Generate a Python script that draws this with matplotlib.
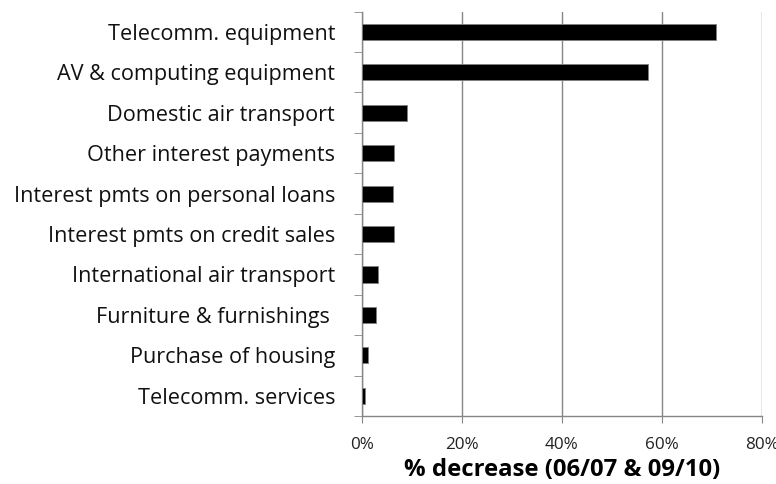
import numpy as np
import matplotlib.pyplot as plt
from matplotlib.ticker import FixedLocator, PercentFormatter

categories = [
    "Telecomm. equipment",
    "AV & computing equipment",
    "Domestic air transport",
    "Other interest payments",
    "Interest pmts on personal loans",
    "Interest pmts on credit sales",
    "International air transport",
    "Furniture & furnishings ",
    "Purchase of housing",
    "Telecomm. services",
]
decrease = [70.8, 57.3, 9.1, 6.4, 6.3, 6.4, 3.2, 2.9, 1.3, 0.7]
xticks = [0, 20, 40, 60, 80]


def main():
    plt.rcParams['font.family'] = ['Open Sans', 'DejaVu Sans']
    fig = plt.figure(figsize=(7.76, 4.84), dpi=100)
    ax = fig.add_axes([0.466, 0.1405, 0.5156, 0.8355])

    ys = np.arange(len(categories))
    ax.barh(ys, decrease, height=0.4, color="black", edgecolor="#7f7f7f", linewidth=0.6, zorder=3)

    ax.set_xlim(0, 80)
    ax.set_ylim(len(categories) - 0.5, -0.5)
    ax.set_xticks(xticks)
    ax.xaxis.set_major_formatter(PercentFormatter(decimals=0))
    ax.tick_params(axis="x", length=5, color="#868686", labelsize=12.3, pad=10, labelcolor="#222222")
    ax.grid(axis="x", color="#868686", linewidth=1.0, zorder=0)

    ax.set_yticks(ys)
    ax.set_yticklabels(categories, fontsize=15.6)
    ax.yaxis.set_minor_locator(FixedLocator(np.arange(-0.5, len(categories), 1.0)))
    ax.tick_params(axis="y", which="major", length=0, pad=19, labelcolor="#111111")
    ax.tick_params(axis="y", which="minor", length=6, color="#868686")

    for side in ["top", "right"]:
        ax.spines[side].set_visible(False)
    for side in ["left", "bottom"]:
        ax.spines[side].set_color("#868686")
        ax.spines[side].set_linewidth(1.0)

    ax.set_xlabel("% decrease (06/07 & 09/10)", fontsize=17.2, fontweight="bold", labelpad=4)

    fig.savefig("out.png", dpi=100)


if __name__ == "__main__":
    main()
